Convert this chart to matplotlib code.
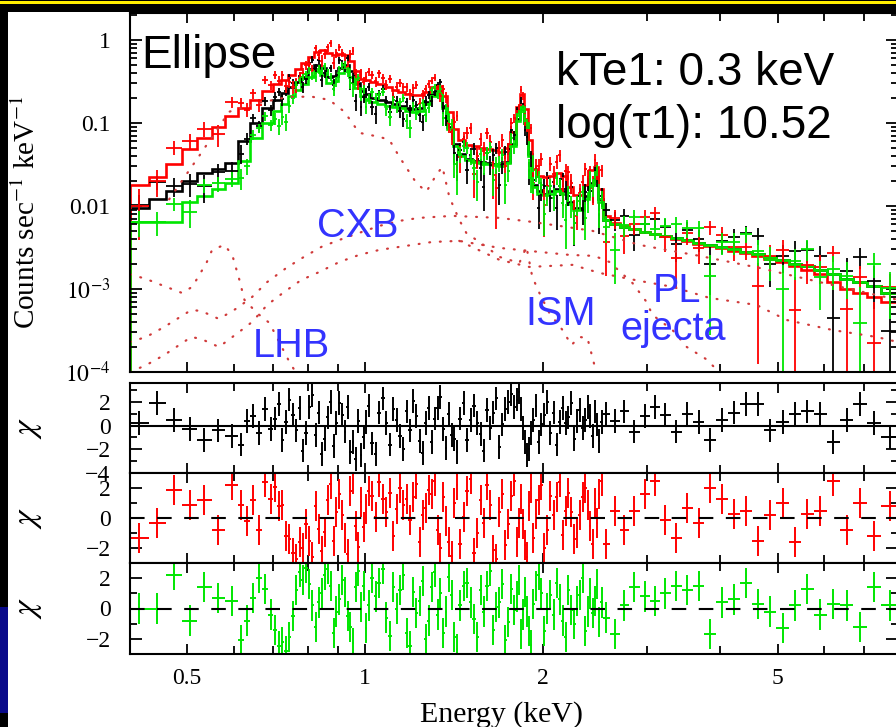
import numpy as np
import matplotlib.pyplot as plt
from matplotlib.patches import Rectangle
from matplotlib.ticker import FixedLocator, FixedFormatter, NullFormatter

W, H = 896, 727

plt.rcParams['font.family'] = ['Liberation Serif', 'DejaVu Serif']
plt.rcParams['mathtext.fontset'] = 'stix'

# ---------------------------------------------------------------------------
# Data (energy bins in keV, counts s^-1 keV^-1)
# ---------------------------------------------------------------------------
edges = [0.40, 0.43, 0.46, 0.49, 0.52, 0.55, 0.58, 0.61, 0.64, 0.67,
         0.70, 0.72, 0.74, 0.76, 0.78, 0.80, 0.82, 0.84, 0.86, 0.88,
         0.90, 0.92, 0.94, 0.96, 0.98, 1.00, 1.02, 1.05, 1.08, 1.11,
         1.14, 1.17, 1.20, 1.23, 1.26, 1.29, 1.32, 1.35, 1.38, 1.41,
         1.44, 1.48, 1.52, 1.56, 1.60, 1.64, 1.68, 1.72, 1.76, 1.80,
         1.83, 1.86, 1.89, 1.92, 1.96, 2.00, 2.05, 2.10, 2.15, 2.20,
         2.25, 2.30, 2.35, 2.40, 2.44, 2.48, 2.53, 2.60, 2.70, 2.80,
         2.92, 3.04, 3.16, 3.30, 3.44, 3.60, 3.76, 3.94, 4.12, 4.32,
         4.52, 4.74, 4.98, 5.22, 5.48, 5.76, 6.06, 6.38, 6.72, 7.08,
         7.50, 8.00]

# model bins 8..66 (0.61-2.53 keV) hold two data channels each
SPLIT_FIRST, SPLIT_LAST = 7, 65

red_model = [0.018, 0.022, 0.032, 0.048, 0.065, 0.090, 0.12, 0.15, 0.19, 0.24,
             0.29, 0.33, 0.38, 0.44, 0.52, 0.62, 0.72, 0.76, 0.70, 0.66,
             0.68, 0.66, 0.55, 0.42, 0.34, 0.33, 0.31, 0.29, 0.27, 0.25,
             0.235, 0.225, 0.215, 0.215, 0.235, 0.27, 0.28, 0.21, 0.135, 0.085,
             0.062, 0.054, 0.052, 0.050, 0.049, 0.047, 0.045, 0.050, 0.078, 0.155,
             0.22, 0.145, 0.062, 0.028, 0.023, 0.022, 0.023, 0.025, 0.023, 0.017,
             0.0135, 0.0135, 0.018, 0.027, 0.029, 0.016, 0.0075, 0.0062, 0.0057, 0.0053,
             0.0049, 0.0046, 0.0043, 0.0040, 0.0038, 0.0035, 0.0033, 0.0031, 0.0029, 0.0027,
             0.0025, 0.0023, 0.0021, 0.0019, 0.0017, 0.0015, 0.0012, 0.0010, 0.0009, 0.0008,
             0.0007]

black_model = [0.0095, 0.012, 0.015, 0.020, 0.025, 0.028, 0.033, 0.060, 0.10, 0.15,
               0.19, 0.23, 0.27, 0.31, 0.36, 0.44, 0.50, 0.46, 0.36, 0.37,
               0.46, 0.50, 0.42, 0.30, 0.24, 0.22, 0.20, 0.19, 0.18, 0.17,
               0.16, 0.15, 0.145, 0.15, 0.18, 0.22, 0.24, 0.16, 0.09, 0.055,
               0.042, 0.037, 0.035, 0.034, 0.033, 0.032, 0.031, 0.034, 0.055, 0.11,
               0.16, 0.10, 0.042, 0.018, 0.015, 0.014, 0.015, 0.016, 0.015, 0.011,
               0.0095, 0.0095, 0.013, 0.019, 0.021, 0.012, 0.0068, 0.0060, 0.0056, 0.0052,
               0.0049, 0.0046, 0.0043, 0.0041, 0.0039, 0.0036, 0.0034, 0.0032, 0.0030, 0.0028,
               0.0026, 0.0024, 0.0022, 0.0020, 0.0019, 0.0017, 0.0015, 0.0013, 0.0012, 0.0011,
               0.0009]

green_model = [0.0064, 0.0064, 0.0064, 0.011, 0.013, 0.016, 0.019, 0.035, 0.065, 0.10,
               0.14, 0.17, 0.21, 0.25, 0.29, 0.36, 0.42, 0.38, 0.30, 0.32,
               0.40, 0.44, 0.36, 0.26, 0.21, 0.19, 0.18, 0.17, 0.16, 0.155,
               0.15, 0.14, 0.135, 0.14, 0.17, 0.21, 0.23, 0.15, 0.085, 0.052,
               0.040, 0.036, 0.034, 0.033, 0.032, 0.031, 0.030, 0.033, 0.053, 0.105,
               0.155, 0.10, 0.040, 0.017, 0.014, 0.0135, 0.014, 0.015, 0.014, 0.0105,
               0.009, 0.009, 0.012, 0.018, 0.020, 0.011, 0.0068, 0.0060, 0.0056, 0.0052,
               0.0049, 0.0046, 0.0043, 0.0041, 0.0039, 0.0036, 0.0034, 0.0032, 0.0030, 0.0028,
               0.0026, 0.0024, 0.0022, 0.0020, 0.0019, 0.0017, 0.0015, 0.0013, 0.0012, 0.0011,
               0.0009]

# 1-sigma error of a data channel as a fraction of the model, per model bin
rel_err = [0.34, 0.32, 0.30, 0.28, 0.26, 0.24, 0.22, 0.18, 0.16, 0.15,
           0.14, 0.14, 0.13, 0.13, 0.12, 0.12, 0.12, 0.12, 0.13, 0.13,
           0.12, 0.12, 0.13, 0.14, 0.14, 0.14, 0.15, 0.15, 0.15, 0.15,
           0.15, 0.15, 0.15, 0.14, 0.13, 0.12, 0.12, 0.15, 0.17, 0.20,
           0.22, 0.23, 0.23, 0.24, 0.24, 0.24, 0.24, 0.22, 0.18, 0.13,
           0.11, 0.13, 0.19, 0.25, 0.27, 0.27, 0.27, 0.26, 0.27, 0.29,
           0.31, 0.31, 0.27, 0.23, 0.22, 0.27, 0.30, 0.30, 0.30, 0.30,
           0.31, 0.31, 0.32, 0.32, 0.33, 0.33, 0.34, 0.35, 0.36, 0.37,
           0.38, 0.40, 0.42, 0.44, 0.46, 0.48, 0.50, 0.53, 0.56, 0.60,
           0.65]

# residuals (data - model) / sigma, one per data channel
chi_black = [0.2, 1.9, 0.5, -0.3, -1.2, -0.4, -0.9,
             -1.6, 0.4, 0.8, -0.6, 1.4, -0.3, 0.6, 1.8, -1.2, 0.3,
             2.2, 0.9, -0.4, 1.5, -2.1, -0.6, 1.6, 2.6, -0.8, 1.1,
             -2.4, -1.1, 0.7, 2.0, -1.7, 0.2, 1.9, 0.9, -0.5, 1.6,
             -2.2, -1.4, -2.8, 0.4, -2.5, -1.0, 0.3, 1.7, -1.5, -2.4,
             1.1, 2.3, 0.2, -1.6, 1.4, 0.5, -0.9, -2.0, 1.2, -0.4,
             2.1, 0.8, -1.3, -2.3, 0.2, 1.5, -1.4, 0.6, 1.5, 2.4,
             -0.3, -1.9, 1.0, -0.8, -1.1, -2.2, 0.6, 1.9, -1.2, 0.5,
             1.7, 0.2, -0.7, -2.1, 1.3, -0.2, 1.1, 2.3, -1.8, 0.1,
             1.4, 2.0, 2.7, 1.6, 2.2, 2.8, 1.4, -0.2, -1.4, -2.5,
             -2.0, -0.6, 0.5, 1.7, -1.4, 0.1, 0.9, 2.0, -0.6, 1.1,
             -1.6, 0.3, 1.5, 0.2, 0.7, 1.9, -1.1, 0.4, 1.3, -0.2,
             0.5, 1.6, 0.8, -0.9, 1.2, 0.1, -1.3, 0.3,
             1.0, 0.4, 1.2, -0.5, 0.8, 1.6, 0.9, -0.5, 1.0, 0.3,
             -1.2, 0.5, 1.1, 1.8, 1.8, -0.4, 0.3, 1.0, 1.2, 1.0,
             -1.4, 0.5, 1.8, 0.2, -1.0]

chi_red = [-1.3, -0.3, 1.9, 0.9, 1.2, -0.8, 2.2,
           0.9, -0.2, 1.2, -0.8, 2.4, 1.3, 2.1, 0.8, 0.9, -1.2,
           -1.4, -2.3, -2.7, -1.6, -2.0, -0.4, -1.5, -2.6, 0.8, -0.7,
           -2.2, -0.9, 1.2, 2.3, -1.5, 0.4, 1.6, 0.2, -1.3, -2.4,
           1.8, 2.6, -0.5, -1.9, 1.1, -0.6, 0.6, 1.8, 1.5, 0.1,
           2.4, 1.3, 0.4, 1.7, -1.2, 0.6, 2.0, 0.9, 1.3, -0.1,
           1.4, 2.3, -1.6, 0.2, 0.7, 1.9, 1.6, 2.5, -0.8, -2.0,
           1.4, -0.2, -1.6, -2.5, 1.0, 2.2, -1.7, 0.1, 1.8, 2.6,
           -2.3, -1.0, 1.2, -0.3, 2.2, 0.9, -2.1, -2.7, 0.4, 1.6,
           -1.8, -0.4, 1.5, 2.5, -1.6, -0.3, 1.3, -0.4, -1.8, -2.6,
           0.8, 2.0, -1.3, 0.3, 1.2, 2.2, -2.0, -0.8, 1.5, 0.2,
           1.4, 2.4, -1.1, 0.5, 1.7, 0.4, -1.4, -1.0, 0.2, 1.4,
           2.0, 0.9, -0.5, -1.7, 1.0, -0.3, 1.6, 2.5,
           -1.7, 0.5, -0.8, 0.5, 1.6, 2.5, -0.1, -1.3, 0.7, -0.3,
           2.0, 1.3, 0.3, 0.5, -1.5, 0.2, 1.0, -1.6, 0.3, 0.5,
           2.5, -0.8, 1.0, -1.2, 0.8]

chi_green = [0.0, 0.0, 2.2, -0.8, 1.4, 0.7, 0.5,
             -2.1, -0.8, 0.7, 2.0, 1.3, -0.4, -1.4, -2.5, -2.2, -2.8,
             -1.9, -0.5, 1.2, 2.4, 1.9, 2.7, 1.6, 0.2, -1.2, 0.4,
             1.0, 2.2, 2.6, 1.5, -1.6, -0.2, 0.6, 1.9, 1.1, -0.5,
             -1.2, -2.3, 1.4, 2.5, 0.1, 1.5, -1.3, 0.2, 2.0, 0.8,
             1.7, 2.6, -0.6, -1.8, 1.4, 0.0, 1.2, 2.2, -1.6, -2.5,
             1.1, -0.3, 0.5, 1.8, -2.0, -0.8, 1.4, 2.4, -0.4, 1.0,
             -1.6, -0.2, 2.1, 0.9, -1.9, -2.7, 0.2, 1.5, 1.7, 0.4,
             -0.7, -1.9, 1.2, -0.2, 1.5, 2.5, -1.4, 0.1, 0.4, 1.6,
             -2.1, -0.9, 1.3, -0.1, 0.8, 1.9, -1.7, -0.4, 1.1, -0.2,
             -1.5, -2.4, 0.3, 1.5, 2.2, 1.0, -1.5, 0.0, 0.9, -0.4,
             1.7, 0.6, -0.8, -1.9, 1.2, -0.1, -1.0, 0.5, 0.9, 2.0,
             -1.5, -0.2, 1.0, -0.3, 0.5, 1.6, -0.9, 0.4,
             -0.6, -1.7, 0.2, 1.4, 0.8, 0.5, 1.0, 1.5, 1.2, 1.5,
             -1.7, 0.4, 0.6, 1.7, 0.3, -0.2, -1.3, 0.2, 1.3, -0.4,
             0.3, 0.2, -1.2, 1.4, 0.2]

# model components (dotted), energy in keV and value
lhb_e = [0.40, 0.426, 0.443, 0.490, 0.510, 0.539, 0.551, 0.578, 0.596, 0.613,
         0.625, 0.657, 0.689, 0.745, 0.77]
lhb_v = [1.5e-3, 1.32e-3, 1.18e-3, 8.95e-4, 1.06e-3, 2.06e-3, 2.95e-3, 3.39e-3, 2.57e-3, 1.28e-3,
         7.4e-4, 5.1e-4, 3.9e-4, 1.32e-4, 9e-5]

cxb_e = [0.40, 0.426, 0.457, 0.508, 0.528, 0.566, 0.608, 0.644, 0.683, 0.736,
         0.783, 0.844, 0.905, 0.978, 1.058, 1.144, 1.236, 1.406, 1.690, 1.921,
         2.195, 2.43, 2.918, 3.688, 4.661, 5.891, 7.99]
cxb_v = [2.3e-4, 2.64e-4, 3.48e-4, 5.58e-4, 5.43e-4, 4.35e-4, 5.9e-4, 8.0e-4, 1.21e-3, 1.79e-3,
         2.36e-3, 3.21e-3, 3.89e-3, 4.73e-3, 5.74e-3, 6.6e-3, 7.17e-3, 7.58e-3, 7.17e-3, 6.41e-3,
         5.58e-3, 5.0e-3, 3.39e-3, 2.5e-3, 1.79e-3, 1.21e-3, 7.4e-4]

ej_e = [0.40, 0.426, 0.457, 0.508, 0.528, 0.566, 0.612, 0.644, 0.683, 0.730,
        0.780, 0.837, 0.905, 0.978, 1.058, 1.144, 1.301, 1.445, 1.690, 1.975,
        2.221, 2.448, 2.596, 2.839, 2.999, 3.07, 3.32, 3.51, 3.79, 3.98]
ej_v = [1.0e-4, 1.21e-4, 1.6e-4, 2.64e-4, 2.5e-4, 2.0e-4, 3.03e-4, 4.0e-4, 6.41e-4, 9.2e-4,
        1.28e-3, 1.6e-3, 2.11e-3, 2.57e-3, 2.95e-3, 3.21e-3, 3.68e-3, 3.79e-3, 3.12e-3, 2.79e-3,
        2.57e-3, 2.5e-3, 2.11e-3, 1.18e-3, 7.0e-4, 4.86e-4, 3.2e-4, 2.0e-4, 1.42e-4, 1.0e-4]

pl_e = [1.445, 1.690, 1.899, 2.247, 2.496, 2.918, 3.32, 3.835, 4.607, 5.18,
        6.2, 7.36, 7.99]
pl_v = [3.79e-3, 2.24e-3, 1.84e-3, 1.95e-3, 1.56e-3, 1.25e-3, 1.06e-3, 7.8e-4, 6.41e-4, 4.23e-4,
        3.2e-4, 2.64e-4, 2.3e-4]

ism_e = [0.466, 0.524, 0.589, 0.662, 0.745, 0.814, 0.870, 0.923, 0.978, 1.058,
         1.100, 1.144, 1.222, 1.271, 1.321, 1.353, 1.390, 1.445, 1.485, 1.606,
         1.690, 1.827, 1.878, 1.921, 1.975, 2.053, 2.161, 2.238, 2.309, 2.382,
         2.448, 2.496]
ism_v = [0.012, 0.04, 0.136, 0.174, 0.206, 0.206, 0.189, 0.136, 0.0758, 0.0678,
         0.0624, 0.0389, 0.0189, 0.0148, 0.0236, 0.0295, 0.0128, 0.00678, 0.00473, 0.00321,
         0.00243, 0.00206, 0.00321, 0.0014, 0.000895, 0.000514, 0.000321, 0.000211, 0.000264, 0.000257,
         0.000121, 8.0e-5]

COLORS = {'black': 'black', 'red': '#ff0000', 'green': '#00e600'}


def fx(px):
    return px / W


def fy(py):
    return 1 - py / H


def style_axes(ax, bottom_labels=False):
    ax.set_xscale('log')
    ax.set_xlim(0.4, 8.0)
    ax.xaxis.set_major_locator(FixedLocator([0.5, 1, 2, 5]))
    ax.xaxis.set_minor_locator(FixedLocator([0.4, 0.6, 0.7, 0.8, 0.9, 3, 4, 6, 7, 8]))
    ax.xaxis.set_minor_formatter(NullFormatter())
    if bottom_labels:
        ax.xaxis.set_major_formatter(FixedFormatter(['0.5', '1', '2', '5']))
    else:
        ax.xaxis.set_major_formatter(NullFormatter())
    ax.tick_params(which='both', direction='in', top=True, right=True,
                   width=1.3, labelsize=17, pad=10, colors='black')
    ax.tick_params(axis='x', which='major', length=7)
    ax.tick_params(axis='x', which='minor', length=5.5)
    ax.tick_params(axis='y', which='major', length=8.5, pad=14)
    ax.tick_params(axis='y', which='minor', length=5)
    for s in ax.spines.values():
        s.set_linewidth(1.5)
    ax.set_facecolor('white')


fig = plt.figure(figsize=(W / 100, H / 100), dpi=100, facecolor='black')
fig.add_artist(Rectangle((fx(8), 0), fx(888), fy(12), transform=fig.transFigure,
                         facecolor='white', edgecolor='none', zorder=-10))
fig.add_artist(Rectangle((0, fy(3.5)), 1, 2.5 / H, transform=fig.transFigure,
                         facecolor='#ffee00', edgecolor='none'))
fig.add_artist(Rectangle((0, fy(713)), fx(8), 106 / H, transform=fig.transFigure,
                         facecolor='#0a0a8a', edgecolor='none'))

ax = fig.add_axes([fx(130), fy(372), (898 - 130) / W, (372 - 13) / H])
r1 = fig.add_axes([fx(130), fy(473), (898 - 130) / W, (473 - 383) / H])
r2 = fig.add_axes([fx(130), fy(563), (898 - 130) / W, (563 - 473) / H])
r3 = fig.add_axes([fx(130), fy(654), (898 - 130) / W, (654 - 563) / H])

# data channels: model bins in the split range hold two channels
ch_lo, ch_hi, parent = [], [], []
for i in range(len(edges) - 1):
    a, b = edges[i], edges[i + 1]
    if SPLIT_FIRST <= i <= SPLIT_LAST:
        mid = np.sqrt(a * b)
        ch_lo += [a, mid]
        ch_hi += [mid, b]
        parent += [i, i]
    else:
        ch_lo.append(a)
        ch_hi.append(b)
        parent.append(i)
ch_lo, ch_hi, parent = np.array(ch_lo), np.array(ch_hi), np.array(parent)
cen = np.sqrt(ch_lo * ch_hi)
xerr = [cen - ch_lo, ch_hi - cen]
rel = np.array(rel_err)[parent]

sets = [('black', black_model, chi_black, r1),
        ('red', red_model, chi_red, r2),
        ('green', green_model, chi_green, r3)]
for _, m, c, _ in sets:
    assert len(m) == len(edges) - 1 and len(c) == len(cen), (len(m), len(c), len(cen))

# ---- main spectrum panel ---------------------------------------------------
style_axes(ax)
ax.set_yscale('log')
ax.set_ylim(1e-4, 2.1)
ax.yaxis.set_major_locator(FixedLocator([1e-4, 1e-3, 1e-2, 1e-1, 1]))
ax.yaxis.set_major_formatter(FixedFormatter([r'$10^{-4}$', r'$10^{-3}$', '0.01', '0.1', '1']))
ax.yaxis.set_minor_locator(FixedLocator([k * 10.0 ** d for d in range(-4, 1) for k in range(2, 10)]))
ax.yaxis.set_minor_formatter(NullFormatter())

for name, model, chi, rax in sets:
    m = np.array(model)
    m_ch = m[parent]
    sig = m_ch * rel
    data = m_ch + np.array(chi) * sig
    ax.errorbar(cen, data, xerr=xerr, yerr=sig, fmt='none',
                ecolor=COLORS[name], elinewidth=1.3)
    ax.stairs(m, edges, color=COLORS[name], lw=1.9)

dot = dict(color='#d03a3a', lw=1.6, linestyle=(0, (0.4, 4.4)), dash_capstyle='round')
for e, v in [(lhb_e, lhb_v), (cxb_e, cxb_v), (ej_e, ej_v),
             (pl_e, pl_v), (ism_e, ism_v)]:
    ax.plot(e, v, **dot)

# ---- residual panels -------------------------------------------------------
for name, model, chi, rax in sets:
    style_axes(rax, bottom_labels=(rax is r3))
    rax.errorbar(cen, chi, xerr=xerr, yerr=1.0, fmt='none',
                 ecolor=COLORS[name], elinewidth=1.4)
    if rax is r1:
        rax.axhline(0, color='black', lw=1.5)
        rax.set_ylim(-4, 3.6)
        rax.yaxis.set_major_locator(FixedLocator([-4, -2, 0, 2]))
        rax.yaxis.set_major_formatter(FixedFormatter(['\u22124', '\u22122', '0', '2']))
    else:
        rax.axhline(0, color='black', lw=1.5, linestyle=(0, (7, 6)))
        rax.set_ylim(-3, 3)
        rax.yaxis.set_major_locator(FixedLocator([-2, 0, 2]))
        rax.yaxis.set_major_formatter(FixedFormatter(['\u22122', '0', '2']))
    rax.yaxis.set_minor_locator(FixedLocator([-3, -1, 1, 3]))

# ---- axis labels -----------------------------------------------------------
fig.text(fx(27), fy(212), r'Counts sec$^{-1}$ keV$^{-1}$', rotation=90,
         ha='center', va='center', fontsize=21)
for yc in (428, 518, 608):
    fig.text(fx(29), fy(yc), r'$\chi$', rotation=90, ha='center', va='center', fontsize=24)
fig.text(fx(501), fy(722), 'Energy (keV)', ha='center', va='baseline', fontsize=21.5)

# ---- annotations -----------------------------------------------------------
sans = ['Liberation Sans', 'DejaVu Sans']
fig.text(fx(141), fy(68), 'Ellipse', family=sans, fontsize=33, va='baseline')
fig.text(fx(556), fy(85), 'kTe1: 0.3 keV', family=sans, fontsize=33, va='baseline')
fig.text(fx(556), fy(138), 'log(\u03c41): 10.52', family=sans, fontsize=33, va='baseline')
blue = '#3333ff'
for label, px, py in [('CXB', 317, 237), ('LHB', 253, 357), ('ISM', 525, 325),
                      ('PL', 653, 302), ('ejecta', 620, 340)]:
    fig.text(fx(px), fy(py), label, family=sans, fontsize=28.5, color=blue, va='baseline')

fig.savefig('out.png', dpi=100, facecolor=fig.get_facecolor())
